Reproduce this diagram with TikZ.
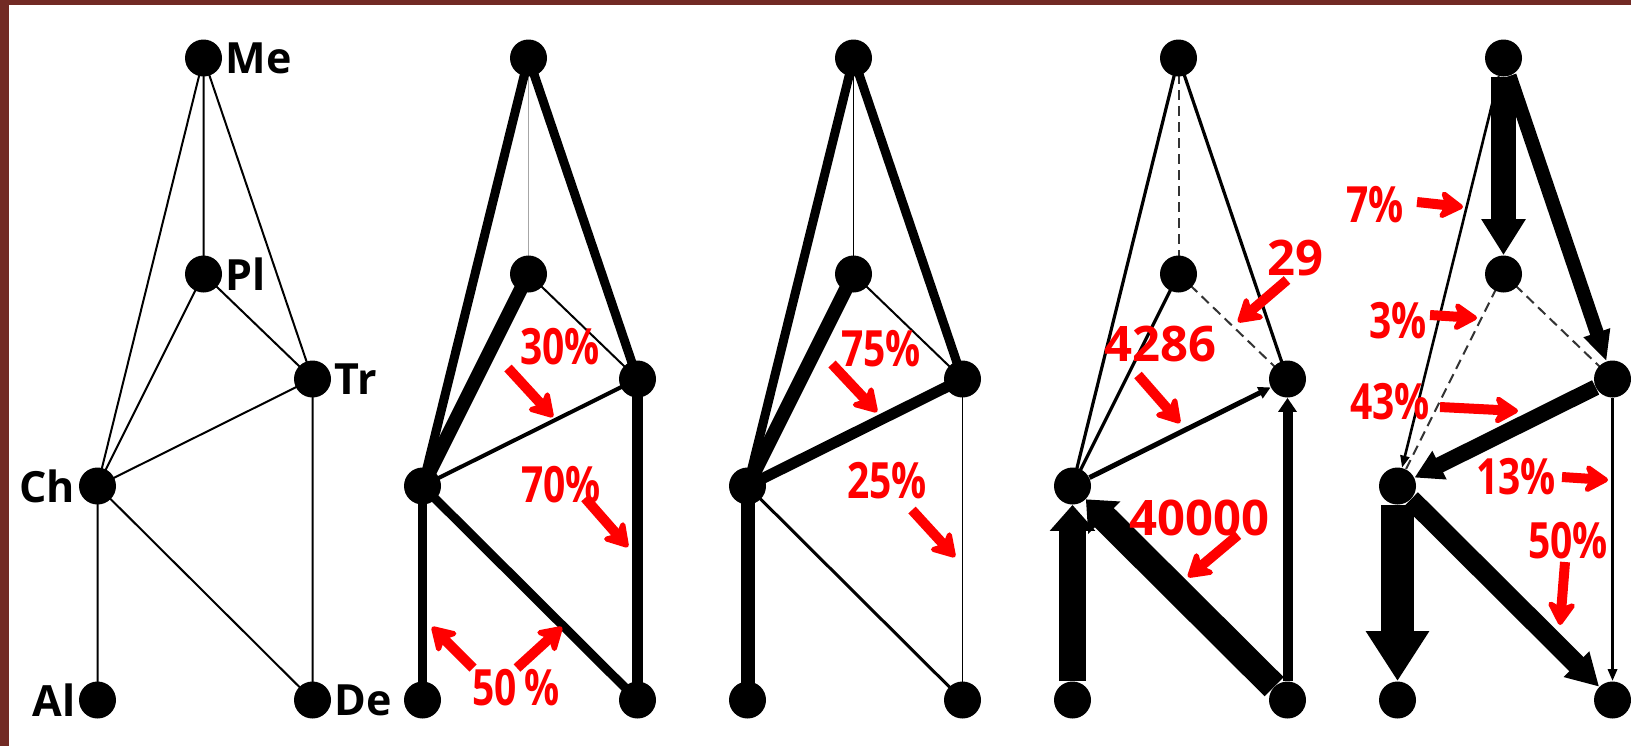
\documentclass[tikz,border=0pt]{standalone}
\usepackage{fontspec}
\setmainfont{Open Sans}
\newfontfamily\pctfont[FakeStretch=0.78]{Open Sans}
\usetikzlibrary{arrows.meta}
\usetikzlibrary{backgrounds}
\definecolor{frame}{RGB}{114,42,36}

\begin{document}
\begin{tikzpicture}[x=0.5pt, y=-0.5pt,
  vert/.style={circle, fill=black, inner sep=0pt, minimum size=18.5pt},
  lbl/.style={font=\fontsize{21.5}{24}\selectfont\bfseries, inner sep=1.5pt},
  num/.style={text=red, font=\fontsize{24.5}{28}\selectfont\bfseries, inner sep=0pt},
  pct/.style={text=red, font=\pctfont\fontsize{25}{28}\selectfont\bfseries, inner sep=0pt},
  ln/.style={line width=#1},
  dsh/.style={line width=1pt, black!80, dash pattern=on 5pt off 3pt},
  flow/.style n args={3}{line width=#1, -{Triangle[width=#2, length=#3]}},
  note/.style={red, line width=5pt, -{Stealth[width=17pt, length=14pt, inset=4pt, round]}}]
\useasboundingbox (0,0) rectangle (1631,746);
%
% panel 1: the graph
\node[vert, label={[lbl]right:Me}] (me1) at (203.5,58) {};
\node[vert, label={[lbl]right:Pl}] (pl1) at (203.5,274) {};
\node[vert, label={[lbl]right:Tr}] (tr1) at (312.5,379) {};
\node[vert, label={[lbl]left:Ch}] (ch1) at (97.5,486) {};
\node[vert, label={[lbl]left:Al}] (al1) at (97.5,700) {};
\node[vert, label={[lbl]right:De}] (de1) at (312.5,700) {};
% panel 2
\begin{scope}[shift={(325,0)}]
\node[vert] (me2) at (203.5,58) {};
\node[vert] (pl2) at (203.5,274) {};
\node[vert] (tr2) at (312.5,379) {};
\node[vert] (ch2) at (97.5,486) {};
\node[vert] (al2) at (97.5,700) {};
\node[vert] (de2) at (312.5,700) {};
\end{scope}
% panel 3
\begin{scope}[shift={(650,0)}]
\node[vert] (me3) at (203.5,58) {};
\node[vert] (pl3) at (203.5,274) {};
\node[vert] (tr3) at (312.5,379) {};
\node[vert] (ch3) at (97.5,486) {};
\node[vert] (al3) at (97.5,700) {};
\node[vert] (de3) at (312.5,700) {};
\end{scope}
% panel 4
\begin{scope}[shift={(975,0)}]
\node[vert] (me4) at (203.5,58) {};
\node[vert] (pl4) at (203.5,274) {};
\node[vert] (tr4) at (312.5,379) {};
\node[vert] (ch4) at (97.5,486) {};
\node[vert] (al4) at (97.5,700) {};
\node[vert] (de4) at (312.5,700) {};
\end{scope}
% panel 5
\begin{scope}[shift={(1300,0)}]
\node[vert] (me5) at (203.5,58) {};
\node[vert] (pl5) at (203.5,274) {};
\node[vert] (tr5) at (312.5,379) {};
\node[vert] (ch5) at (97.5,486) {};
\node[vert] (al5) at (97.5,700) {};
\node[vert] (de5) at (312.5,700) {};
\end{scope}
%
\begin{pgfonlayer}{background}
\fill[frame] (0,0) rectangle (1631,746);
\fill[white] (9,5) rectangle (1631,746);
% panel 1
\draw[ln=1pt] (me1.center) -- (pl1.center) (me1.center) -- (tr1.center)
  (me1.center) -- (ch1.center) (pl1.center) -- (ch1.center)
  (pl1.center) -- (tr1.center) (ch1.center) -- (tr1.center)
  (tr1.center) -- (de1.center) (ch1.center) -- (al1.center)
  (ch1.center) -- (de1.center);
% panel 2
\draw[ln=0.9pt, gray!70] (me2.center) -- (pl2.center);
\draw[ln=4.5pt] (me2.center) -- (ch2.center);
\draw[ln=4.5pt] (me2.center) -- (tr2.center);
\draw[ln=7pt] (pl2.center) -- (ch2.center);
\draw[ln=1pt] (pl2.center) -- (tr2.center);
\draw[ln=2pt] (ch2.center) -- (tr2.center);
\draw[ln=5.5pt] (tr2.center) -- (de2.center);
\draw[ln=4.5pt] (ch2.center) -- (al2.center);
\draw[ln=4.5pt] (ch2.center) -- (de2.center);
% panel 3
\draw[ln=0.8pt] (me3.center) -- (pl3.center);
\draw[ln=4.5pt] (me3.center) -- (ch3.center);
\draw[ln=4.5pt] (me3.center) -- (tr3.center);
\draw[ln=7pt] (pl3.center) -- (ch3.center);
\draw[ln=1pt] (pl3.center) -- (tr3.center);
\draw[ln=5.5pt] (ch3.center) -- (tr3.center);
\draw[ln=0.8pt] (tr3.center) -- (de3.center);
\draw[ln=7pt] (ch3.center) -- (al3.center);
\draw[ln=1.5pt] (ch3.center) -- (de3.center);
% panel 4
\draw[dsh] (me4.center) -- (pl4.center);
\draw[dsh] (pl4.center) -- (tr4.center);
\draw[ln=1.6pt] (me4.center) -- (ch4.center);
\draw[ln=1.6pt] (me4.center) -- (tr4.center);
\draw[ln=1.6pt] (pl4.center) -- (ch4.center);
% panel 5
\draw[dsh] (pl5.center) -- (ch5.center);
\draw[dsh] (pl5.center) -- (tr5.center);
\end{pgfonlayer}
%
% panel 4: flows
\draw[flow={2.5pt}{6pt}{6pt}] (ch4) -- (tr4);
\draw[flow={5pt}{9pt}{7pt}] (de4) -- (tr4);
\draw[flow={13.5pt}{22pt}{13pt}] (de4) -- (ch4);
\draw[flow={13.5pt}{22pt}{13pt}] (al4) -- (ch4);
% panel 5: flows
\draw[flow={12.5pt}{21pt}{18pt}] (me5) -- (pl5);
\draw[flow={7pt}{13pt}{15pt}] (me5) -- (tr5);
\draw[flow={1.3pt}{4.5pt}{6pt}] (me5) -- (ch5);
\draw[flow={8pt}{15pt}{14pt}] (tr5) -- (ch5);
\draw[flow={1.5pt}{4.5pt}{6pt}] (tr5) -- (de5);
\draw[flow={16.5pt}{30pt}{25pt}] (ch5) -- (al5);
\draw[flow={10pt}{17pt}{16pt}] (ch5) -- (de5);
%
% red notes
\node[pct] (p30) at (560,347) {30\%};
\node[pct] (p70) at (561,485) {70\%};
\node[pct] (p50) at (516,688) {50\,\%};
\node[pct] (p75) at (881,349) {75\%};
\node[pct] (p25) at (887,481) {25\%};
\node[num] (n29) at (1295,258) {29};
\node[num] (n4286) at (1160,344) {4286};
\node[num] (n40000) at (1199,518) {40000};
\node[pct] (p7) at (1375,205) {7\%};
\node[pct] (p3) at (1398,321) {3\%};
\node[pct] (p43) at (1390,402) {43\%};
\node[pct] (p13) at (1516,477) {13\%};
\node[pct] (p50b) at (1568,541) {50\%};
%
\coordinate (a30) at (508,368); \coordinate (b30) at (553,417);
\coordinate (a70) at (585,498); \coordinate (b70) at (628,547);
\coordinate (a50l) at (473,668); \coordinate (b50l) at (432,627);
\coordinate (a50r) at (517,668); \coordinate (b50r) at (562,627);
\coordinate (a75) at (832,364); \coordinate (b75) at (877,412);
\coordinate (a25) at (912,510); \coordinate (b25) at (955,557);
\coordinate (a29) at (1287,280); \coordinate (b29) at (1238,322);
\coordinate (a4286) at (1138,375); \coordinate (b4286) at (1180,423);
\coordinate (a40000) at (1238,535); \coordinate (b40000) at (1188,577);
\coordinate (a7) at (1417,202); \coordinate (b7) at (1463,207);
\coordinate (a3) at (1430,315); \coordinate (b3) at (1477,318);
\coordinate (a43) at (1440,407); \coordinate (b43) at (1518,411);
\coordinate (a13) at (1562,477); \coordinate (b13) at (1608,480);
\coordinate (a50b) at (1565,562); \coordinate (b50b) at (1560,625);
\draw[note] (a30) -- (b30);
\draw[note] (a70) -- (b70);
\draw[note] (a50l) -- (b50l);
\draw[note] (a50r) -- (b50r);
\draw[note] (a75) -- (b75);
\draw[note] (a25) -- (b25);
\draw[note] (a29) -- (b29);
\draw[note] (a4286) -- (b4286);
\draw[note] (a40000) -- (b40000);
\draw[note] (a7) -- (b7);
\draw[note] (a3) -- (b3);
\draw[note] (a43) -- (b43);
\draw[note] (a13) -- (b13);
\draw[note] (a50b) -- (b50b);
\end{tikzpicture}
\end{document}
